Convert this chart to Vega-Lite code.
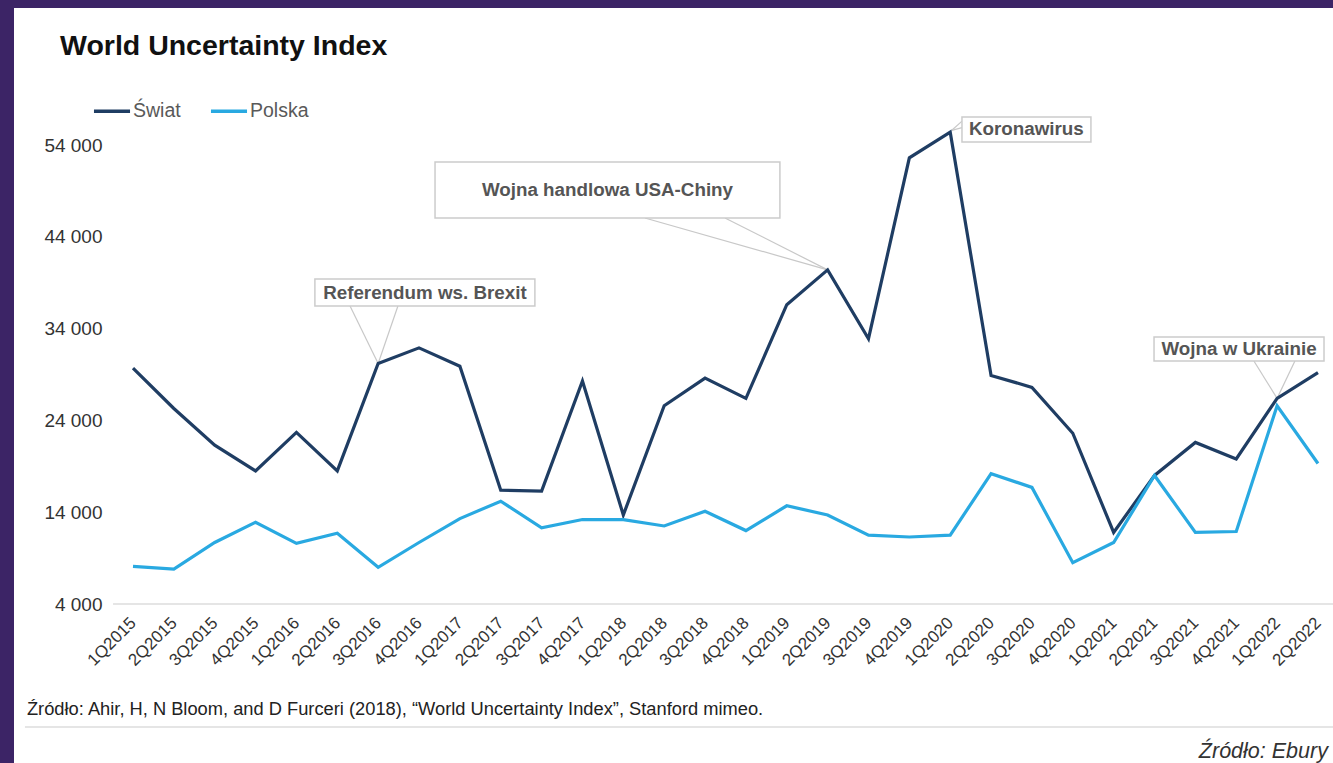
{
  "$schema": "https://vega.github.io/schema/vega-lite/v6.json",
  "width": 1319,
  "height": 755,
  "autosize": {"type": "none"},
  "padding": {"left": 14, "top": 8, "right": 0, "bottom": 0},
  "background": "#3c2466",
  "config": {
    "view": {"fill": "white", "stroke": null},
    "font": "Liberation Sans"
  },
  "title": {
    "text": "World Uncertainty Index",
    "anchor": "start",
    "frame": "group",
    "dx": 46,
    "offset": -75,
    "baseline": "alphabetic",
    "fontSize": 28.5,
    "font": "Liberation Sans",
    "fontWeight": "bold",
    "color": "#111111"
  },
  "datasets": {
    "wui": [
      {"okres": "1Q2015", "t": 2015.00, "Świat": 29700, "Polska": 8100},
      {"okres": "2Q2015", "t": 2015.25, "Świat": 25300, "Polska": 7800},
      {"okres": "3Q2015", "t": 2015.50, "Świat": 21300, "Polska": 10700},
      {"okres": "4Q2015", "t": 2015.75, "Świat": 18500, "Polska": 12900},
      {"okres": "1Q2016", "t": 2016.00, "Świat": 22700, "Polska": 10600},
      {"okres": "2Q2016", "t": 2016.25, "Świat": 18500, "Polska": 11700},
      {"okres": "3Q2016", "t": 2016.50, "Świat": 30200, "Polska": 8000},
      {"okres": "4Q2016", "t": 2016.75, "Świat": 31900, "Polska": 10700},
      {"okres": "1Q2017", "t": 2017.00, "Świat": 29900, "Polska": 13300},
      {"okres": "2Q2017", "t": 2017.25, "Świat": 16400, "Polska": 15200},
      {"okres": "3Q2017", "t": 2017.50, "Świat": 16300, "Polska": 12300},
      {"okres": "4Q2017", "t": 2017.75, "Świat": 28300, "Polska": 13200},
      {"okres": "1Q2018", "t": 2018.00, "Świat": 13700, "Polska": 13200},
      {"okres": "2Q2018", "t": 2018.25, "Świat": 25600, "Polska": 12500},
      {"okres": "3Q2018", "t": 2018.50, "Świat": 28600, "Polska": 14100},
      {"okres": "4Q2018", "t": 2018.75, "Świat": 26400, "Polska": 12000},
      {"okres": "1Q2019", "t": 2019.00, "Świat": 36600, "Polska": 14700},
      {"okres": "2Q2019", "t": 2019.25, "Świat": 40400, "Polska": 13700},
      {"okres": "3Q2019", "t": 2019.50, "Świat": 32900, "Polska": 11500},
      {"okres": "4Q2019", "t": 2019.75, "Świat": 52600, "Polska": 11300},
      {"okres": "1Q2020", "t": 2020.00, "Świat": 55400, "Polska": 11500},
      {"okres": "2Q2020", "t": 2020.25, "Świat": 28900, "Polska": 18200},
      {"okres": "3Q2020", "t": 2020.50, "Świat": 27600, "Polska": 16700},
      {"okres": "4Q2020", "t": 2020.75, "Świat": 22600, "Polska": 8500},
      {"okres": "1Q2021", "t": 2021.00, "Świat": 11800, "Polska": 10700},
      {"okres": "2Q2021", "t": 2021.25, "Świat": 18000, "Polska": 18000},
      {"okres": "3Q2021", "t": 2021.50, "Świat": 21600, "Polska": 11800},
      {"okres": "4Q2021", "t": 2021.75, "Świat": 19800, "Polska": 11900},
      {"okres": "1Q2022", "t": 2022.00, "Świat": 26400, "Polska": 25600},
      {"okres": "2Q2022", "t": 2022.25, "Świat": 29200, "Polska": 19300}
    ],
    "boxes": [
      {"label": "Referendum ws. Brexit", "x1": 2016.113, "x2": 2017.459, "y1": 39403, "y2": 36462, "tx": 2016.786, "ty": 37932},
      {"label": "Wojna handlowa USA-Chiny", "x1": 2016.848, "x2": 2018.958, "y1": 52150, "y2": 46050, "tx": 2017.903, "ty": 49100},
      {"label": "Koronawirus", "x1": 2020.072, "x2": 2020.861, "y1": 57050, "y2": 54330, "tx": 2020.466, "ty": 55690},
      {"label": "Wojna w Ukrainie", "x1": 2021.247, "x2": 2022.287, "y1": 33085, "y2": 30470, "tx": 2021.767, "ty": 31778}
    ],
    "leaders": [
      {"x1": 2016.328, "y1": 36462, "x2": 2016.5, "y2": 30200},
      {"x1": 2016.621, "y1": 36462, "x2": 2016.5, "y2": 30200},
      {"x1": 2018.132, "y1": 46050, "x2": 2019.25, "y2": 40400},
      {"x1": 2018.622, "y1": 46050, "x2": 2019.25, "y2": 40400},
      {"x1": 2020.072, "y1": 56600, "x2": 2020.01, "y2": 55600},
      {"x1": 2020.072, "y1": 55900, "x2": 2020.01, "y2": 55600},
      {"x1": 2021.858, "y1": 30470, "x2": 2022.0, "y2": 26400},
      {"x1": 2022.109, "y1": 30470, "x2": 2022.0, "y2": 26400}
    ],
    "rules": [
      {"name": "baseline", "x1": 2014.878, "x2": 2022.342, "y": 4000},
      {"name": "separator", "x1": 2014.339, "x2": 2022.342, "y": -9399}
    ],
    "notes": [
      {"text": "Źródło: Ahir, H, N Bloom, and D Furceri (2018), “World Uncertainty Index”, Stanford mimeo.", "x": 2014.351, "y": -7547, "style": "normal", "align": "left"},
      {"text": "Źródło: Ebury", "x": 2022.311, "y": -12122, "style": "italic", "align": "right"}
    ]
  },
  "layer": [
    {
      "data": {"name": "rules"},
      "mark": {"type": "rule", "color": "#dcdcdc", "strokeWidth": 1.5},
      "encoding": {
        "x": {"field": "x1", "type": "quantitative", "scale": {"domain": [2014.272, 2022.342], "nice": false, "zero": false}},
        "x2": {"field": "x2"},
        "y": {"field": "y", "type": "quantitative"}
      }
    },
    {
      "data": {"name": "leaders"},
      "mark": {"type": "rule", "color": "#c8c8c8", "strokeWidth": 1.2},
      "encoding": {
        "x": {"field": "x1", "type": "quantitative"},
        "x2": {"field": "x2"},
        "y": {"field": "y1", "type": "quantitative"},
        "y2": {"field": "y2"}
      }
    },
    {
      "data": {"name": "wui"},
      "transform": [{"fold": ["Świat", "Polska"], "as": ["seria", "wartosc"]}],
      "mark": {"type": "line", "strokeWidth": 3.2, "strokeJoin": "miter"},
      "encoding": {
        "x": {
          "field": "t",
          "type": "quantitative",
          "axis": {
            "orient": "bottom",
            "offset": -159,
            "title": null,
            "values": [2015, 2015.25, 2015.5, 2015.75, 2016, 2016.25, 2016.5, 2016.75, 2017, 2017.25, 2017.5, 2017.75, 2018, 2018.25, 2018.5, 2018.75, 2019, 2019.25, 2019.5, 2019.75, 2020, 2020.25, 2020.5, 2020.75, 2021, 2021.25, 2021.5, 2021.75, 2022, 2022.25],
            "labelExpr": "(round((datum.value - floor(datum.value)) * 4) + 1) + 'Q' + floor(datum.value)",
            "labelAngle": -45,
            "labelAlign": "right",
            "labelBaseline": "middle",
            "labelPadding": 16,
            "labelFontSize": 17,
            "labelColor": "#333333",
            "labelFont": "Liberation Sans",
            "labelOverlap": false,
            "labelFlush": false,
            "labelBound": false,
            "grid": false,
            "ticks": false,
            "domain": false
          }
        },
        "y": {
          "field": "wartosc",
          "type": "quantitative",
          "scale": {"domain": [-13320, 68924], "nice": false, "zero": false},
          "axis": {
            "orient": "left",
            "offset": -88,
            "title": null,
            "values": [4000, 14000, 24000, 34000, 44000, 54000],
            "labelExpr": "replace(format(datum.value, ','), ',', ' ')",
            "labelFontSize": 19,
            "labelColor": "#333333",
            "labelFont": "Liberation Sans",
            "labelPadding": 0,
            "labelAlign": "right",
            "grid": false,
            "ticks": false,
            "domain": false
          }
        },
        "color": {
          "field": "seria",
          "type": "nominal",
          "sort": ["Świat", "Polska"],
          "scale": {"domain": ["Świat", "Polska"], "range": ["#1f3d63", "#29a9e1"]},
          "legend": {
            "orient": "none",
            "legendX": 78,
            "legendY": 83,
            "direction": "horizontal",
            "title": null,
            "symbolType": "stroke",
            "symbolSize": 1300,
            "symbolStrokeWidth": 3.5,
            "labelFontSize": 19.5,
            "labelColor": "#595959",
            "labelFont": "Liberation Sans",
            "labelOffset": 1,
            "columnPadding": 22,
            "padding": 0
          }
        }
      }
    },
    {
      "data": {"name": "boxes"},
      "mark": {"type": "rect", "fill": "white", "stroke": "#cccccc", "strokeWidth": 1.5},
      "encoding": {
        "x": {"field": "x1", "type": "quantitative"},
        "x2": {"field": "x2"},
        "y": {"field": "y1", "type": "quantitative"},
        "y2": {"field": "y2"}
      }
    },
    {
      "data": {"name": "boxes"},
      "mark": {"type": "text", "fontSize": 18.8, "fontWeight": "bold", "color": "#555555", "font": "Liberation Sans", "align": "center", "baseline": "middle"},
      "encoding": {
        "x": {"field": "tx", "type": "quantitative"},
        "y": {"field": "ty", "type": "quantitative"},
        "text": {"field": "label"}
      }
    },
    {
      "data": {"name": "notes"},
      "transform": [{"filter": "datum.style == 'normal'"}],
      "mark": {"type": "text", "fontSize": 18.3, "color": "#222222", "font": "Liberation Sans", "align": "left", "baseline": "middle"},
      "encoding": {
        "x": {"field": "x", "type": "quantitative"},
        "y": {"field": "y", "type": "quantitative"},
        "text": {"field": "text"}
      }
    },
    {
      "data": {"name": "notes"},
      "transform": [{"filter": "datum.style == 'italic'"}],
      "mark": {"type": "text", "fontSize": 21.5, "fontStyle": "italic", "color": "#333333", "font": "Liberation Sans", "align": "right", "baseline": "middle"},
      "encoding": {
        "x": {"field": "x", "type": "quantitative"},
        "y": {"field": "y", "type": "quantitative"},
        "text": {"field": "text"}
      }
    }
  ]
}
